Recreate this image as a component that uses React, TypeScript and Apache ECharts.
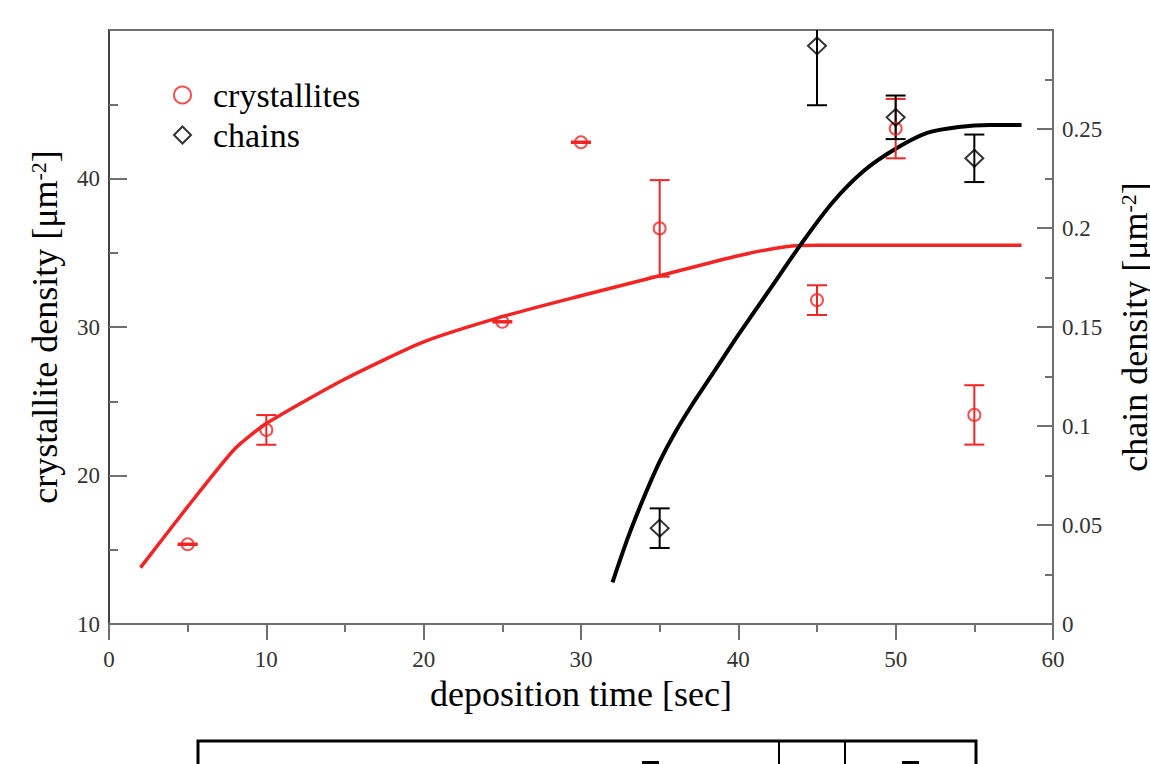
import React, { useEffect, useRef } from 'react';
import * as echarts from 'echarts';

// ---- data ----
const crystTime = [5, 10, 25, 30, 35, 45, 50, 55];
const crystDensity = [15.37, 23.07, 30.35, 42.44, 36.64, 31.81, 43.36, 24.08];
const crystError = [0.05, 1.0, 0.05, 0.05, 3.25, 1.0, 2.0, 2.0];

const chainTime = [35, 45, 50, 55];
const chainDensity = [0.0484, 0.292, 0.2559, 0.2352];
const chainError = [0.01, 0.03, 0.011, 0.012];

const crystFitTime = [2, 5, 8, 10, 15, 20, 25, 30, 35, 40, 43, 45, 50, 55, 58];
const crystFitDensity = [13.8, 17.9, 21.8, 23.5, 26.5, 29.0, 30.7, 32.1, 33.45, 34.8, 35.4, 35.5, 35.5, 35.5, 35.5];

const chainFitTime = [32, 33, 34, 35, 36, 37, 38, 39, 40, 42, 44, 46, 48, 50, 52, 54, 56, 58];
const chainFitDensity = [0.021, 0.044, 0.064, 0.082, 0.097, 0.110, 0.122, 0.134, 0.146, 0.169, 0.192, 0.213, 0.229, 0.24, 0.248, 0.251, 0.252, 0.252];

const xRange = { min: 0, max: 60, interval: 10 };
const yLeftRange = { min: 10, max: 50, interval: 10 };
const yRightRange = { min: 0, max: 0.3, interval: 0.05 };

const legendNames = ['crystallites', 'chains'];

const FONT = '"Liberation Serif", "DejaVu Serif", serif';
const RED = '#f22424';
const AXIS = '#707070';

function zip2(a: number[], b: number[]) {
  return a.map((v, i) => [v, b[i]]);
}

function errorItems(xs: number[], ys: number[], es: number[]) {
  return xs.map((x, i) => [x, ys[i] - es[i], ys[i] + es[i]]);
}

function makeErrorRender(color: string) {
  return (params: any, api: any) => {
    const x = api.value(0);
    const lo = api.value(1);
    const hi = api.value(2);
    const p1 = api.coord([x, hi]);
    const p2 = api.coord([x, lo]);
    const w = 10;
    const st = { stroke: color, lineWidth: 2 };
    return {
      type: 'group',
      children: [
        { type: 'line', shape: { x1: p1[0], y1: p1[1], x2: p2[0], y2: p2[1] }, style: st },
        { type: 'line', shape: { x1: p1[0] - w, y1: p1[1], x2: p1[0] + w, y2: p1[1] }, style: st },
        { type: 'line', shape: { x1: p2[0] - w, y1: p2[1], x2: p2[0] + w, y2: p2[1] }, style: st },
      ],
    };
  };
}

export default function App() {
  const ref = useRef<HTMLDivElement>(null);
  useEffect(() => {
    if (!ref.current) return;
    const chart = echarts.init(ref.current, null, { renderer: 'svg' });
    const tickLabel = { fontFamily: FONT, fontSize: 23, color: '#333' };
    chart.setOption({
      animation: false,
      backgroundColor: '#fff',
      grid: {
        left: 109,
        right: 97,
        top: 30,
        bottom: 140,
        show: true,
        borderColor: AXIS,
        borderWidth: 2,
        containLabel: false,
        outerBoundsMode: 'none',
      },
      legend: {
        data: legendNames,
        orient: 'vertical',
        left: 168,
        top: 73,
        itemWidth: 17,
        itemHeight: 17,
        itemGap: 6,
        selectedMode: false,
        textStyle: { fontFamily: FONT, fontSize: 34, color: '#000', padding: [0, 0, 0, 17] },
      },
      xAxis: {
        type: 'value',
        min: xRange.min,
        max: xRange.max,
        interval: xRange.interval,
        name: 'deposition time [sec]',
        nameLocation: 'middle',
        nameGap: 45,
        nameTextStyle: { fontFamily: FONT, fontSize: 36, color: '#000' },
        axisLine: { show: true, lineStyle: { color: AXIS, width: 2 } },
        axisTick: { show: true, inside: false, length: 16, lineStyle: { color: AXIS, width: 2 } },
        minorTick: { show: true, splitNumber: 2, length: 8, lineStyle: { color: AXIS, width: 2 } },
        axisLabel: { ...tickLabel, margin: 24 },
        splitLine: { show: false },
      },
      yAxis: [
        {
          type: 'value',
          position: 'left',
          min: yLeftRange.min,
          max: yLeftRange.max,
          interval: yLeftRange.interval,
          name: 'crystallite density [μm{s|-2}]',
          nameLocation: 'middle',
          nameRotate: 90,
          nameGap: 46,
          nameTextStyle: {
            fontFamily: FONT,
            fontSize: 36,
            color: '#000',
            rich: { s: { fontFamily: FONT, fontSize: 22, color: '#000', verticalAlign: 'top', lineHeight: 22 } },
          },
          axisLine: { show: true, lineStyle: { color: '#444', width: 2 } },
          axisTick: { show: true, inside: true, length: 18, lineStyle: { color: AXIS, width: 2 } },
          minorTick: { show: true, splitNumber: 2, length: 9, lineStyle: { color: AXIS, width: 2 } },
          axisLabel: { ...tickLabel, margin: 9, showMaxLabel: false },
          splitLine: { show: false },
        },
        {
          type: 'value',
          position: 'right',
          min: yRightRange.min,
          max: yRightRange.max,
          interval: yRightRange.interval,
          name: 'chain density [μm{s|-2}]',
          nameLocation: 'middle',
          nameRotate: 90,
          nameGap: 64,
          nameTextStyle: {
            fontFamily: FONT,
            fontSize: 36,
            color: '#000',
            rich: { s: { fontFamily: FONT, fontSize: 22, color: '#000', verticalAlign: 'top', lineHeight: 22 } },
          },
          axisLine: { show: true, lineStyle: { color: AXIS, width: 2 } },
          axisTick: { show: true, inside: true, length: 16, lineStyle: { color: AXIS, width: 2 } },
          minorTick: { show: true, splitNumber: 2, length: 8, lineStyle: { color: AXIS, width: 2 } },
          axisLabel: { ...tickLabel, margin: 9, showMaxLabel: false },
          splitLine: { show: false },
        },
      ],
      series: [
        {
          name: 'crystallite fit',
          type: 'line',
          yAxisIndex: 0,
          data: zip2(crystFitTime, crystFitDensity),
          showSymbol: false,
          smooth: 0.2,
          lineStyle: { color: RED, width: 3.5 },
          z: 2,
        },
        {
          name: 'chain fit',
          type: 'line',
          yAxisIndex: 1,
          data: zip2(chainFitTime, chainFitDensity),
          showSymbol: false,
          smooth: 0.3,
          lineStyle: { color: '#000', width: 4 },
          z: 2,
        },
        {
          name: 'crystallite errors',
          type: 'custom',
          yAxisIndex: 0,
          clip: true,
          data: errorItems(crystTime, crystDensity, crystError),
          renderItem: makeErrorRender(RED),
          encode: { x: 0, y: [1, 2] },
          z: 3,
        },
        {
          name: 'chain errors',
          type: 'custom',
          yAxisIndex: 1,
          clip: true,
          data: errorItems(chainTime, chainDensity, chainError),
          renderItem: makeErrorRender('#000'),
          encode: { x: 0, y: [1, 2] },
          z: 3,
        },
        {
          name: 'crystallites',
          type: 'scatter',
          yAxisIndex: 0,
          data: zip2(crystTime, crystDensity),
          symbol: 'circle',
          symbolSize: 12,
          itemStyle: { color: 'rgba(255,255,255,0)', borderColor: RED, borderWidth: 2 },
          z: 4,
        },
        {
          name: 'chains',
          type: 'scatter',
          yAxisIndex: 1,
          data: zip2(chainTime, chainDensity),
          symbol: 'diamond',
          symbolSize: [18, 17],
          itemStyle: { color: 'rgba(255,255,255,0)', borderColor: '#000', borderWidth: 2 },
          z: 4,
        },
      ],
      graphic: [
        {
          type: 'polyline',
          shape: { points: [[198, 770], [198, 741], [976, 741], [976, 770]] },
          style: { stroke: '#000', lineWidth: 3, fill: 'none' },
        },
        { type: 'line', shape: { x1: 779, y1: 741, x2: 779, y2: 770 }, style: { stroke: '#000', lineWidth: 2 } },
        { type: 'line', shape: { x1: 845, y1: 741, x2: 845, y2: 770 }, style: { stroke: '#000', lineWidth: 2 } },
        { type: 'rect', shape: { x: 642, y: 761, width: 17, height: 4 }, style: { fill: '#000' } },
        { type: 'rect', shape: { x: 902, y: 761, width: 17, height: 4 }, style: { fill: '#000' } },
      ],
    });
    return () => chart.dispose();
  }, []);
  return (
    <div
      ref={ref}
      style={{ position: 'fixed', left: 0, top: 0, width: 1150, height: 764, background: '#fff' }}
    />
  );
}
